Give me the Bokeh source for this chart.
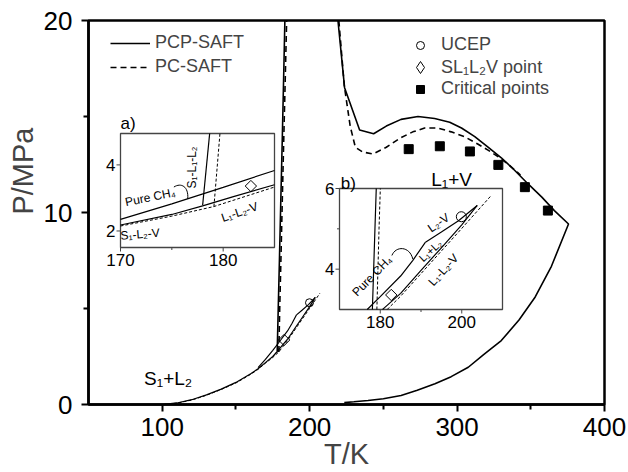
import math
from bokeh.plotting import figure
from bokeh.models import Range1d, FixedTicker, Legend, LegendItem, Title
from bokeh.core.properties import value
from bokeh.embed import file_html
from bokeh.resources import INLINE

FONT = "Liberation Sans"

# ---- data (T in K, P in MPa) ----
# S1-L1-L2 melting line
melt_T_pcp = [178.0, 178.7, 179.5, 180.4, 181.4, 182.3, 183.2]
melt_P_pcp = [2.78, 5.0, 7.5, 10.5, 13.7, 16.8, 20.0]
melt_T_pc = [179.1, 179.7, 180.5, 181.4, 182.4, 183.4, 184.4]
melt_P_pc = [2.74, 5.0, 7.5, 10.5, 13.7, 16.8, 20.0]

# S1-L2-V three-phase line continuing as L1-L2-V
tp_T_pcp = [101, 110, 120, 130, 140, 150, 160, 165, 170, 175, 178.0, 181, 185, 190, 195, 200, 203.8]
tp_P_pcp = [0.01, 0.08, 0.25, 0.5, 0.8, 1.15, 1.6, 1.86, 2.18, 2.5, 2.76, 3.04, 3.4, 3.97, 4.53, 5.1, 5.58]
tp_T_pc = [101, 110, 120, 130, 140, 150, 160, 165, 170, 175, 179.1, 185, 190, 195, 200, 207]
tp_P_pc = [0.0, 0.07, 0.23, 0.48, 0.78, 1.12, 1.57, 1.83, 2.15, 2.45, 2.74, 3.33, 3.89, 4.45, 5.01, 5.8]

# pure CH4 vapour pressure and L2-V line
ch4_T = [165, 170, 175, 180, 185, 188, 191.1]
ch4_P = [1.92, 2.35, 2.82, 3.32, 3.83, 4.22, 4.67]
l2v_T = [191.1, 195, 199.2, 203.8]
l2v_P = [4.67, 4.92, 5.2, 5.58]

# L1+V boundary (upper branch then lower branch)
lv_T_pcp = [219.2, 223.7, 233.9, 243.4, 252, 262, 273.5, 284.8, 295, 303, 312, 321, 330, 339, 348, 357.5, 366, 375.6,
            364, 353, 342, 330, 318, 307.6, 296, 285, 273, 262, 250, 239.6, 230, 223.5]
lv_P_pcp = [20.0, 16.5, 14.3, 14.1, 14.5, 14.85, 15.0, 14.9, 14.7, 14.4, 13.95, 13.4, 12.85, 12.2, 11.5, 10.8, 10.1, 9.4,
            7.2, 5.6, 4.4, 3.33, 2.6, 1.94, 1.45, 1.08, 0.74, 0.47, 0.3, 0.21, 0.14, 0.1]
lv_T_pc = [219.8, 223.5, 227.5, 231, 236, 243, 252, 262, 270, 278, 287, 296, 305, 314, 321, 328, 335, 343]
lv_P_pc = [20.0, 16.6, 14.5, 13.4, 13.15, 13.05, 13.4, 13.9, 14.2, 14.4, 14.4, 14.2, 13.95, 13.57, 13.25, 12.9, 12.5, 11.95]

# special points
ucep_T, ucep_P = [199.9], [5.3]
quad_T, quad_P = [182.7], [3.36]
crit_T = [267.2, 288.3, 308.7, 328.0, 346.0, 361.6]
crit_P = [13.3, 13.45, 13.18, 12.48, 11.32, 10.1]

# axes
x_major, x_minor = [100, 200, 300, 400], [150, 250, 350]
y_major, y_minor = [0, 10, 20], [5, 15]

# ---- layout ----
X_RANGE = (50, 400)
Y_RANGE = (0, 20)
W, H = 628, 472
BL, BR, BT, BB = 88, 24, 20, 68
FW, FH = W - BL - BR, H - BT - BB


def px_to_data(px, py):
    x = X_RANGE[0] + (px - BL) / FW * (X_RANGE[1] - X_RANGE[0])
    y = Y_RANGE[0] + (BT + FH - py) / FH * (Y_RANGE[1] - Y_RANGE[0])
    return x, y


def clip_polyline(xs, ys, x0, x1, y0, y1):
    """Liang-Barsky clipping of a polyline to a rectangle; returns pieces."""
    pieces, cx, cy = [], [], []
    for i in range(len(xs) - 1):
        ax, ay, bx, by = xs[i], ys[i], xs[i + 1], ys[i + 1]
        dx, dy = bx - ax, by - ay
        t0, t1, ok = 0.0, 1.0, True
        for pp, qq in ((-dx, ax - x0), (dx, x1 - ax), (-dy, ay - y0), (dy, y1 - ay)):
            if pp == 0:
                if qq < 0:
                    ok = False
                    break
            else:
                r = qq / pp
                if pp < 0:
                    if r > t1:
                        ok = False
                        break
                    t0 = max(t0, r)
                else:
                    if r < t0:
                        ok = False
                        break
                    t1 = min(t1, r)
        if not ok or t1 < t0:
            if cx:
                pieces.append((cx, cy))
                cx, cy = [], []
            continue
        sx, sy = ax + t0 * dx, ay + t0 * dy
        ex, ey = ax + t1 * dx, ay + t1 * dy
        if cx and (abs(cx[-1] - sx) > 1e-9 or abs(cy[-1] - sy) > 1e-9):
            pieces.append((cx, cy))
            cx, cy = [], []
        if not cx:
            cx, cy = [sx], [sy]
        cx.append(ex)
        cy.append(ey)
    if cx:
        pieces.append((cx, cy))
    return pieces


p = figure(width=W, height=H, x_range=Range1d(*X_RANGE), y_range=Range1d(*Y_RANGE),
           output_backend="svg", toolbar_location=None,
           min_border_left=BL, min_border_right=BR, min_border_top=BT, min_border_bottom=BB)
p.grid.visible = False
p.outline_line_color = "black"
p.outline_line_width = 2.5
p.background_fill_color = "white"
p.border_fill_color = "white"

p.xaxis.ticker = FixedTicker(ticks=x_major, minor_ticks=x_minor)
p.yaxis.ticker = FixedTicker(ticks=y_major, minor_ticks=y_minor)
for ax in (p.xaxis[0], p.yaxis[0]):
    ax.axis_line_width = 2.5
    ax.major_tick_line_width = 2
    ax.minor_tick_line_width = 2
    ax.major_tick_out = 7
    ax.major_tick_in = 0
    ax.minor_tick_out = 5
    ax.minor_tick_in = 0
    ax.major_label_text_font = FONT
    ax.major_label_text_font_size = "26px"
    ax.major_label_text_color = "black"
p.xaxis.major_label_standoff = 6
p.yaxis.major_label_standoff = 9

# axis titles
p.xaxis.axis_label = "T/K"
p.xaxis.axis_label_text_font = FONT
p.xaxis.axis_label_text_font_size = "29px"
p.xaxis.axis_label_text_font_style = "normal"
p.xaxis.axis_label_standoff = -1
p.add_layout(Title(text="P/MPa", align="right", offset=107, text_font=FONT, text_font_size="29px",
                   text_font_style="normal", standoff=4), "left")

LW = 1.6
DASH = "6 4"
r_melt_pcp = p.line(melt_T_pcp, melt_P_pcp, line_color="black", line_width=LW)
r_melt_pc = p.line(melt_T_pc, melt_P_pc, line_color="black", line_width=LW, line_dash=DASH)
p.line(tp_T_pcp, tp_P_pcp, line_color="black", line_width=1.2)
p.line(tp_T_pc, tp_P_pc, line_color="black", line_width=1.0, line_dash="3 2")
p.line(ch4_T, ch4_P, line_color="black", line_width=1.2)
p.line(l2v_T, l2v_P, line_color="black", line_width=1.2)
p.line(lv_T_pcp, lv_P_pcp, line_color="black", line_width=LW)
p.line(lv_T_pc, lv_P_pc, line_color="black", line_width=LW, line_dash=DASH)

r_ucep = p.scatter(ucep_T, ucep_P, marker="circle", size=8, fill_color=None, line_color="black", line_width=1)
p.scatter(quad_T, quad_P, marker="square", angle=math.pi / 4, size=8, fill_color=None,
          line_color="black", line_width=1)
r_crit = p.scatter(crit_T, crit_P, marker="square", size=9, fill_color="black", line_color="black")
# hidden diamond renderer that only supplies the legend key of the SL1L2V point
r_quad_leg = p.scatter(quad_T, quad_P, marker="diamond", size=8, fill_color=None, line_color="black",
                       line_width=1, visible=False)

p.text(x=[104], y=[1.35], text=["S\u2081+L\u2082"], text_font=value(FONT), text_font_size=value("19px"),
       text_align="center", text_baseline="middle")
p.text(x=[296.3], y=[11.7], text=["L\u2081+V"], text_font=value(FONT), text_font_size=value("19px"),
       text_align="center", text_baseline="middle")

# legends
legend_style = dict(border_line_alpha=0, background_fill_alpha=0, label_text_font=FONT,
                    label_text_font_size="18px", padding=0, margin=0)
leg_lines = Legend(items=[LegendItem(label="PCP-SAFT", renderers=[r_melt_pcp]),
                          LegendItem(label="PC-SAFT", renderers=[r_melt_pc])],
                   location=(22, 327), glyph_width=40, glyph_height=20, label_height=20, spacing=3,
                   label_standoff=5, **legend_style)
leg_ucep = Legend(items=[LegendItem(label="UCEP", renderers=[r_ucep])],
                  location=(322, 349), glyph_width=20, glyph_height=20, label_height=20,
                  label_standoff=11, **legend_style)
leg_quad = Legend(items=[LegendItem(label="SL\u2081L\u2082V point", renderers=[r_quad_leg])],
                  location=(317, 322), glyph_width=30, glyph_height=30, label_height=30,
                  label_standoff=6, **legend_style)
leg_crit = Legend(items=[LegendItem(label="Critical points", renderers=[r_crit])],
                  location=(322, 305), glyph_width=20, glyph_height=20, label_height=20,
                  label_standoff=11, **legend_style)
for lg in (leg_lines, leg_ucep, leg_quad, leg_crit):
    p.add_layout(lg)


# ---- insets ----
def make_inset(box, xs, ys):
    l, t, r, b = box
    x0, y1 = px_to_data(l, t)
    x1, y0 = px_to_data(r, b)
    return p.subplot(x_source=Range1d(*xs), y_source=Range1d(*ys),
                     x_target=Range1d(x0, x1), y_target=Range1d(y0, y1))


def draw_inset(box, xs, ys, xt_major, xt_minor, yt_major, yt_minor):
    ia = make_inset(box, xs, ys)
    l, t, r, b = box
    sx = (xs[1] - xs[0]) / (r - l)
    sy = (ys[1] - ys[0]) / (b - t)
    ia.quad(left=[xs[0]], right=[xs[1]], bottom=[ys[0]], top=[ys[1]],
            fill_color="white", line_color="#444444", line_width=1.3)

    def clipped(T, P, **kw):
        pcs = clip_polyline(T, P, xs[0], xs[1], ys[0], ys[1])
        if pcs:
            ia.multi_line([pc[0] for pc in pcs], [pc[1] for pc in pcs], line_color="black", **kw)

    clipped(melt_T_pcp, melt_P_pcp, line_width=1.2)
    clipped(melt_T_pc, melt_P_pc, line_width=1.0, line_dash="3 2")
    clipped(tp_T_pcp, tp_P_pcp, line_width=1.2)
    clipped(tp_T_pc, tp_P_pc, line_width=1.0, line_dash="3 2")
    clipped(ch4_T, ch4_P, line_width=1.2)
    clipped(l2v_T, l2v_P, line_width=1.2)

    # ticks
    tl_major, tl_minor = 4, 2.5
    ia.segment(x0=xt_major, y0=[ys[0]] * len(xt_major), x1=xt_major,
               y1=[ys[0] - tl_major * sy] * len(xt_major), line_color="#444444", line_width=1)
    ia.segment(x0=xt_minor, y0=[ys[0]] * len(xt_minor), x1=xt_minor,
               y1=[ys[0] - tl_minor * sy] * len(xt_minor), line_color="#444444", line_width=1)
    ia.segment(x0=[xs[0]] * len(yt_major), y0=yt_major, x1=[xs[0] - tl_major * sx] * len(yt_major),
               y1=yt_major, line_color="#444444", line_width=1)
    ia.segment(x0=[xs[0]] * len(yt_minor), y0=yt_minor, x1=[xs[0] - tl_minor * sx] * len(yt_minor),
               y1=yt_minor, line_color="#444444", line_width=1)
    ia.text(x=xt_major, y=[ys[0]] * len(xt_major), text=[str(v) for v in xt_major],
            y_offset=6, text_align="center", text_baseline="top",
            text_font=value(FONT), text_font_size=value("17px"))
    ia.text(x=[xs[0]] * len(yt_major), y=yt_major, text=[str(v) for v in yt_major],
            x_offset=-5, text_align="right", text_baseline="middle",
            text_font=value(FONT), text_font_size=value("17px"))
    return ia


BOX_A = (120, 133, 274, 247)
BOX_B = (339, 188, 502, 309)
ia = draw_inset(BOX_A, (170, 185), (1.5, 4.95), [170, 180], [175], [2, 4], [])
ib = draw_inset(BOX_B, (170, 210), (3, 6), [180, 200], [190], [4, 6], [5])

small = value("12px")
# inset a
ia.scatter(quad_T, quad_P, marker="square", angle=math.pi / 4, size=8, fill_color=None,
           line_color="black", line_width=1)
ia.bezier(x0=[175.2], y0=[3.33], x1=[176.55], y1=[2.97], cx0=[175.9], cy0=[3.47], cx1=[176.65], cy1=[3.35],
          line_color="black", line_width=1)
ia.text(x=[172.9], y=[3.02], text=["Pure CH\u2084"], angle=0.2, text_align="center", text_baseline="middle",
        text_font=value(FONT), text_font_size=small)
ia.text(x=[177.0], y=[3.92], text=["S\u2081-L\u2081-L\u2082"], angle=math.pi / 2, text_align="center",
        text_baseline="middle", text_font=value(FONT), text_font_size=small)
ia.text(x=[171.9], y=[1.9], text=["S\u2081-L\u2082-V"], angle=0.08, text_align="center", text_baseline="middle",
        text_font=value(FONT), text_font_size=small)
ia.text(x=[181.6], y=[2.57], text=["L\u2081-L\u2082-V"], angle=0.33, text_align="center", text_baseline="middle",
        text_font=value(FONT), text_font_size=small)
ia.text(x=[170.0], y=[4.97], text=["a)"], text_align="left", text_baseline="bottom",
        text_font=value(FONT), text_font_size=value("17px"))

# inset b
ib.scatter(quad_T, quad_P, marker="square", angle=math.pi / 4, size=8, fill_color=None,
           line_color="black", line_width=1)
ib.scatter(ucep_T, ucep_P, marker="circle", size=10, fill_color=None, line_color="black", line_width=1)
ib.bezier(x0=[182.86], y0=[4.34], x1=[188.0], y1=[4.25], cx0=[183.8], cy0=[4.58], cx1=[187.2], cy1=[4.58],
          line_color="black", line_width=1)
ib.text(x=[178.0], y=[3.83], text=["Pure CH\u2084"], angle=0.8, text_align="center", text_baseline="middle",
        text_font=value(FONT), text_font_size=small)
ib.text(x=[194.3], y=[5.15], text=["L\u2082-V"], angle=0.6, text_align="center", text_baseline="middle",
        text_font=value(FONT), text_font_size=small)
ib.text(x=[192.3], y=[4.46], text=["L\u2081+L\u2082"], angle=0.75, text_align="center", text_baseline="middle",
        text_font=value(FONT), text_font_size=value("11px"))
ib.text(x=[195.5], y=[3.98], text=["L\u2081-L\u2082-V"], angle=0.83, text_align="center", text_baseline="middle",
        text_font=value(FONT), text_font_size=small)
ib.text(x=[170.3], y=[5.9], text=["b)"], text_align="left", text_baseline="bottom",
        text_font=value(FONT), text_font_size=value("17px"))

open("out.html", "w").write(file_html(p, INLINE))
